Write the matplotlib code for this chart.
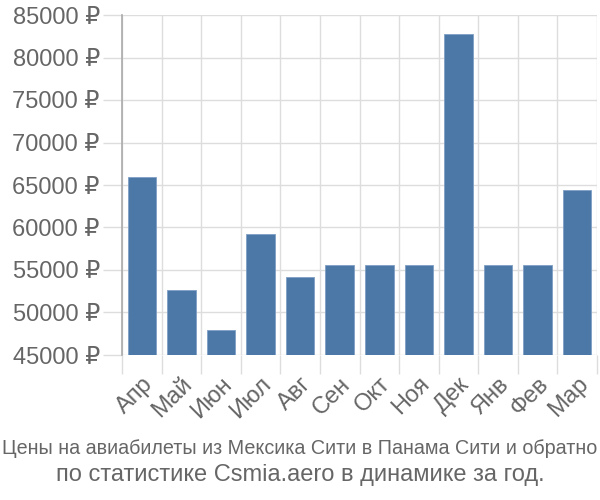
import matplotlib
matplotlib.use("Agg")
import matplotlib.pyplot as plt
from matplotlib import font_manager
import numpy as np

months = ["Апр", "Май", "Июн", "Июл", "Авг", "Сен", "Окт", "Ноя", "Дек", "Янв", "Фев", "Мар"]
prices = [66000, 52700, 47900, 59200, 54200, 55600, 55600, 55600, 82800, 55600, 55600, 64400]
yticks = [45000, 50000, 55000, 60000, 65000, 70000, 75000, 80000, 85000]
title1 = "Цены на авиабилеты из Мексика Сити в Панама Сити и обратно"
title2 = "по статистике Csmia.aero в динамике за год."

plt.rcParams['font.family'] = ['Liberation Sans', 'DejaVu Sans']
gray = "#666666"
grid = "#dddddd"

names = {f.name for f in font_manager.fontManager.ttflist}
has_narrow = 'Liberation Sans Narrow' in names

fig = plt.figure(figsize=(6, 5), dpi=100)
ax = fig.add_axes([122/600, 1-355/500, 475/600, 340/500])
x = np.arange(len(months))
ax.bar(x, np.array(prices) - 45000, bottom=45000, width=0.72, color="#4C78A8",
       edgecolor="#7f9fc4", linewidth=0.6, zorder=3)
ax.set_xlim(-0.5, len(months) - 0.5)
ax.set_ylim(45000, 85000)
ax.set_yticks(yticks)
ax.set_yticklabels([f"{v} ₽" for v in yticks], color=gray, fontsize=17)
ax.set_xticks(np.arange(-0.5, len(months), 1.0))
ax.set_xticklabels([])
ax.set_xticks(x, minor=True)
ax.set_xticklabels(months, minor=True, rotation=45, ha="right", va="top",
                   rotation_mode="anchor", color=gray, fontsize=17)
ax.tick_params(axis="x", which="minor", length=0, pad=13)
ax.tick_params(axis="x", which="major", length=14, color=grid, width=1)
ax.tick_params(axis="y", length=14, color=grid, width=1, pad=2)
ax.grid(True, which="major", color=grid, linewidth=1, zorder=0)
for s in ["top", "right", "bottom"]:
    ax.spines[s].set_visible(False)
ax.spines["left"].set_color("#aaaaaa")
ax.spines["left"].set_linewidth(1.2)
ax.spines["left"].set_bounds(45000, 85000)

if has_narrow:
    fig.text(0.5, 1-448/500, title1, ha="center", va="center", color=gray, fontsize=17,
             family=['Liberation Sans Narrow', 'DejaVu Sans'])
else:
    fig.text(0.5, 1-448/500, title1, ha="center", va="center", color=gray, fontsize=14.2)
fig.text(0.5, 1-475/500, title2, ha="center", va="center", color=gray, fontsize=17)
fig.savefig("out.png", dpi=100)
